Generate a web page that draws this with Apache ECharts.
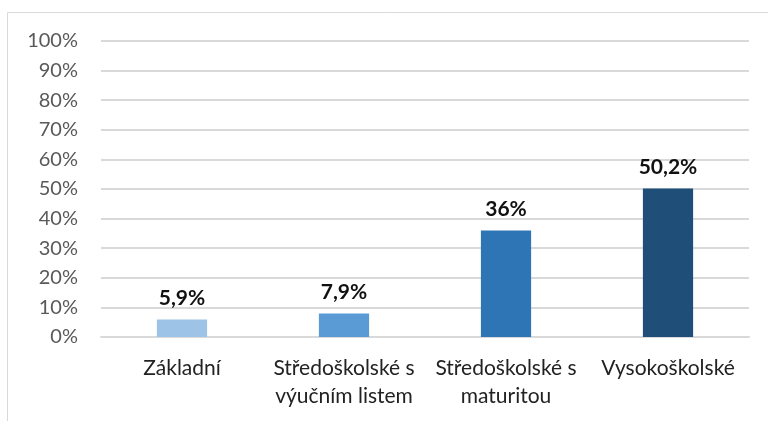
<!DOCTYPE html>
<html>
<head>
<meta charset="utf-8">
<script src="https://cdn.jsdelivr.net/npm/echarts@6/dist/echarts.min.js"></script>
<style>
  html, body { margin: 0; padding: 0; background: #fff; }
  #box { width: 768px; height: 421px; }
</style>
</head>
<body>
<div id="box"></div>
<script>
var categories = ['Základní', 'Středoškolské s\nvýučním listem', 'Středoškolské s\nmaturitou', 'Vysokoškolské'];
var values = [5.9, 7.9, 36, 50.2];
var valueLabels = ['5,9%', '7,9%', '36%', '50,2%'];
var barColors = ['#9dc3e6', '#5b9bd5', '#2e75b6', '#1f4e79'];

var font = 'Lato, "Open Sans", sans-serif';
var chart = echarts.init(document.getElementById('box'));

chart.setOption({
    animation: false,
    graphic: [{
        type: 'rect',
        shape: { x: 7.5, y: 12.5, width: 800, height: 450 },
        style: { fill: 'none', stroke: '#d9d9d9', lineWidth: 1 },
        silent: true
    }],
    grid: { left: 101, right: 19, top: 41, bottom: 84 },
    xAxis: {
        type: 'category',
        data: categories,
        axisLine: { show: true, lineStyle: { color: '#d9d9d9', width: 2 } },
        axisTick: { show: false },
        axisLabel: {
            color: '#222',
            fontFamily: font,
            fontSize: 21,
            lineHeight: 28,
            margin: 17,
            interval: 0
        }
    },
    yAxis: {
        type: 'value',
        min: 0,
        max: 100,
        interval: 10,
        axisLine: { show: false },
        axisTick: { show: false },
        axisLabel: {
            color: '#595959',
            fontFamily: font,
            fontSize: 20,
            margin: 23,
            formatter: '{value}%'
        },
        splitLine: { lineStyle: { color: '#d9d9d9', width: 2 } }
    },
    series: [{
        type: 'bar',
        barWidth: '31%',
        data: values.map(function (v, i) {
            return { value: v, itemStyle: { color: barColors[i] } };
        }),
        label: {
            show: true,
            position: 'top',
            distance: 11,
            color: '#111',
            fontFamily: font,
            fontSize: 21,
            fontWeight: 'bold',
            formatter: function (p) { return valueLabels[p.dataIndex]; }
        }
    }]
});
</script>
</body>
</html>
